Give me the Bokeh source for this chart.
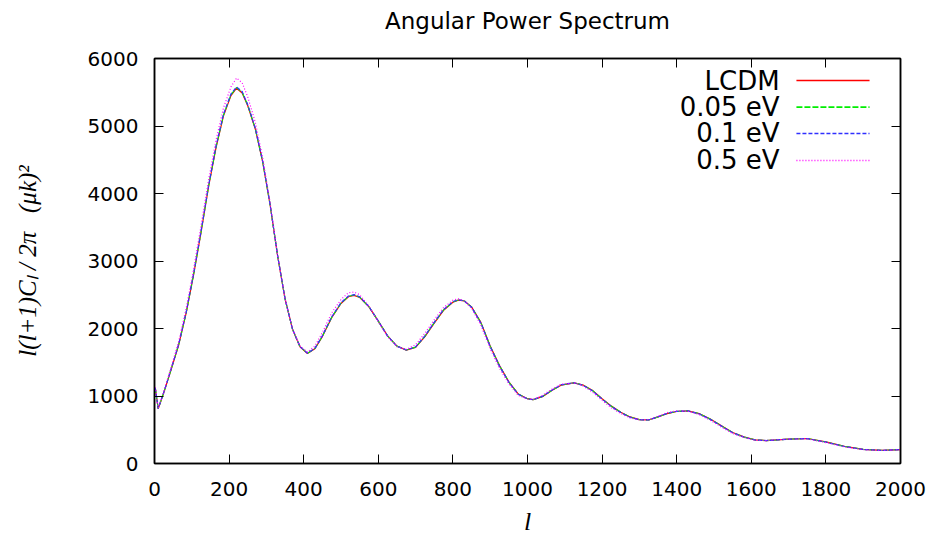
from bokeh.plotting import figure
from bokeh.models import Range1d, LinearAxis, FixedTicker, Label, Arrow
from bokeh.embed import file_html
from bokeh.resources import INLINE

ell = [2, 10, 25, 45, 65, 85, 105, 125, 145, 165, 185, 205, 220, 235, 250, 270, 290, 310,
       330, 350, 370, 390, 410, 430, 450, 475, 500, 520, 535, 550, 575, 600, 625, 650, 675,
       700, 725, 750, 775, 800, 815, 830, 850, 875, 900, 925, 950, 975, 1000, 1015, 1040,
       1065, 1090, 1125, 1150, 1175, 1200, 1225, 1250, 1275, 1300, 1325, 1350, 1375, 1400,
       1430, 1460, 1490, 1520, 1550, 1580, 1610, 1640, 1670, 1700, 1750, 1800, 1850, 1900,
       1950, 2000]

lcdm = [1120, 810, 1050, 1400, 1760, 2230, 2800, 3430, 4100, 4680, 5150, 5450, 5560, 5490,
        5300, 4960, 4470, 3830, 3080, 2440, 1990, 1730, 1630, 1700, 1880, 2160, 2370, 2470,
        2490, 2460, 2320, 2110, 1890, 1740, 1680, 1720, 1880, 2080, 2270, 2390, 2420, 2410,
        2320, 2090, 1740, 1450, 1210, 1030, 960, 945, 990, 1080, 1160, 1195, 1160, 1080, 960,
        850, 760, 690, 650, 645, 690, 740, 770, 780, 740, 660, 560, 460, 395, 350, 340, 350,
        360, 370, 320, 255, 210, 195, 205]

nu005 = [1120, 812, 1052, 1403, 1765, 2236, 2808, 3440, 4110, 4692, 5162, 5462, 5570, 5500,
         5308, 4966, 4474, 3832, 3080, 2440, 1990, 1731, 1632, 1703, 1885, 2166, 2376, 2476,
         2496, 2465, 2322, 2110, 1889, 1739, 1681, 1723, 1885, 2086, 2275, 2394, 2423, 2411,
         2318, 2086, 1736, 1446, 1207, 1028, 959, 945, 992, 1083, 1163, 1196, 1158, 1077, 957,
         847, 758, 688, 649, 645, 691, 742, 772, 780, 738, 657, 557, 458, 393, 349, 340, 350,
         361, 370, 318, 253, 209, 195, 205]

nu01 = [1121, 813, 1055, 1407, 1770, 2243, 2816, 3450, 4121, 4704, 5175, 5475, 5580, 5510,
        5316, 4972, 4479, 3835, 3081, 2440, 1990, 1732, 1634, 1706, 1890, 2172, 2382, 2482,
        2502, 2470, 2324, 2109, 1888, 1738, 1682, 1727, 1890, 2092, 2280, 2398, 2426, 2411,
        2316, 2082, 1732, 1442, 1204, 1026, 958, 946, 994, 1085, 1165, 1196, 1156, 1074, 954,
        844, 756, 686, 648, 646, 692, 744, 773, 779, 736, 654, 554, 456, 392, 348, 340, 350,
        361, 369, 317, 252, 208, 195, 205]

nu05 = [1130, 820, 1070, 1430, 1810, 2300, 2880, 3530, 4200, 4790, 5270, 5580, 5710, 5640,
        5430, 5060, 4530, 3860, 3090, 2440, 1990, 1740, 1650, 1740, 1940, 2230, 2430, 2530,
        2540, 2500, 2330, 2100, 1880, 1730, 1690, 1760, 1930, 2130, 2310, 2420, 2440, 2410,
        2300, 2050, 1700, 1410, 1180, 1010, 955, 950, 1010, 1100, 1175, 1195, 1145, 1055, 935,
        825, 740, 675, 645, 650, 700, 755, 780, 775, 725, 640, 540, 445, 385, 345, 340, 352,
        362, 365, 310, 245, 205, 193, 203]

series_names = ["LCDM", "0.05 eV", "0.1 eV", "0.5 eV"]
series_values = [lcdm, nu005, nu01, nu05]
colors = ["#ff0000", "#00ee00", "#3030ff", "#ff00ff"]
dashes = ["solid", "6 2", "4 2", "1 2"]

x_ticks = list(range(0, 2001, 200))
y_ticks = list(range(0, 6001, 1000))

title_text = "Angular Power Spectrum"
x_label = "l"
y_label = "l(l+1)C\u2097\u00a0/\u00a02\u03c0\u00a0\u00a0\u00a0(\u03bck)\u00b2"

FONT = "DejaVu Sans"
SERIF = "Liberation Serif"

p = figure(width=938, height=544, output_backend="svg", toolbar_location=None,
           title=None,
           x_range=Range1d(0, 2000), y_range=Range1d(0, 6000),
           min_border_left=154, min_border_right=38, min_border_top=58,
           min_border_bottom=81)

p.xgrid.visible = False
p.ygrid.visible = False
p.outline_line_color = "black"
p.outline_line_width = 1.5
p.outline_line_alpha = 1.0

for ax in (p.xaxis[0], p.yaxis[0]):
    ax.major_tick_in = 9
    ax.major_tick_out = 0
    ax.minor_tick_line_color = None
    ax.major_tick_line_color = "black"
    ax.axis_line_color = "black"
    ax.axis_line_width = 1.5
    ax.major_label_text_font = FONT
    ax.major_label_text_font_size = "20px"
    ax.major_label_text_color = "black"
    ax.axis_label_text_font = SERIF
    ax.axis_label_text_font_style = "italic"
    ax.axis_label_text_color = "black"

p.xaxis[0].ticker = FixedTicker(ticks=x_ticks)
p.yaxis[0].ticker = FixedTicker(ticks=y_ticks)
p.xaxis[0].major_label_standoff = 18
p.yaxis[0].major_label_standoff = 16
p.xaxis[0].axis_label = x_label
p.xaxis[0].axis_label_text_font_size = "26px"
p.xaxis[0].axis_label_standoff = 8
p.yaxis[0].axis_label = y_label
p.yaxis[0].axis_label_text_font_size = "25px"
p.yaxis[0].axis_label_standoff = 44

right_ax = LinearAxis(ticker=FixedTicker(ticks=y_ticks), major_label_text_font_size="1px",
                      major_label_text_color=None, major_label_standoff=0,
                      major_tick_in=9, major_tick_out=0, minor_tick_line_color=None,
                      axis_line_color="black", axis_line_width=1.5)
# top mirror axis; its axis label carries the chart title, centred over the frame
top_ax = LinearAxis(ticker=FixedTicker(ticks=x_ticks), major_label_text_font_size="1px",
                    major_label_text_color=None, major_label_standoff=0,
                    major_tick_in=9, major_tick_out=0, minor_tick_line_color=None,
                    axis_line_color="black", axis_line_width=1.5,
                    axis_label=title_text, axis_label_text_font=FONT,
                    axis_label_text_font_size="23px", axis_label_text_font_style="normal",
                    axis_label_text_color="black", axis_label_standoff=25)
p.add_layout(right_ax, "right")
p.add_layout(top_ax, "above")

for vals, c, d in zip(series_values, colors, dashes):
    p.line(ell, vals, line_color=c, line_width=1.2, line_dash=d)

# legend (gnuplot style: text then sample), positions in data units
leg_text_x = 1676
leg_line_x0 = 1721
leg_line_x1 = 1917
leg_rows_y = [5674, 5279, 4889, 4489]
for name, c, d, yy in zip(series_names, colors, dashes, leg_rows_y):
    p.add_layout(Label(x=leg_text_x, y=yy, text=name, text_align="right",
                       text_baseline="middle", text_font=FONT, text_font_size="26px",
                       text_color="black"))
    p.add_layout(Arrow(end=None, x_start=leg_line_x0, y_start=yy, x_end=leg_line_x1,
                       y_end=yy, line_color=c, line_width=1.6, line_dash=d))

open("out.html", "w").write(file_html(p, INLINE))
